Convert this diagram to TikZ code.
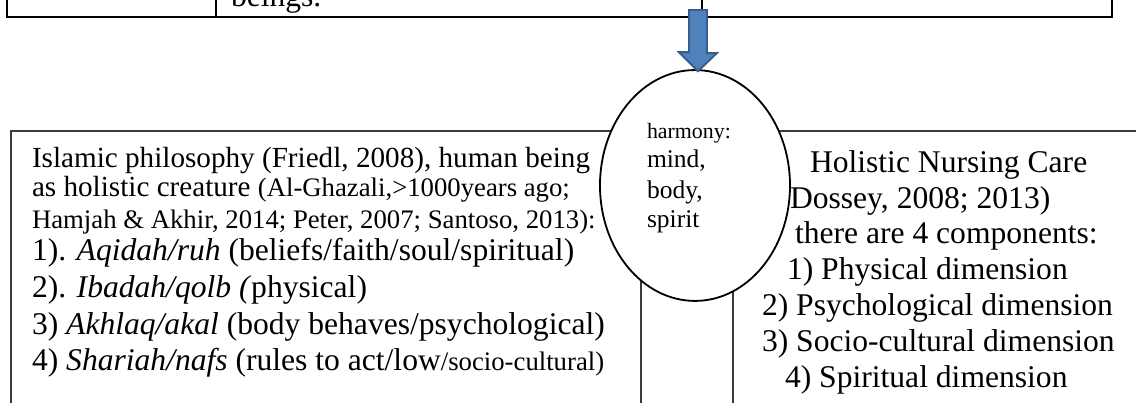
\documentclass[tikz,border=0pt]{standalone}
\usepackage{fontspec}
\setmainfont{Liberation Serif}
\usepackage{tikz}
\usetikzlibrary{positioning,calc,shapes.geometric}
\definecolor{ink}{HTML}{000000}
\definecolor{rejilla}{HTML}{3A3A3A}
\definecolor{azul}{HTML}{4F81BD}
\definecolor{azulosc}{HTML}{385D8A}
\newcommand{\fstrece}{\fontsize{13}{15}\selectfont}
\newcommand{\fsdoce}{\fontsize{12}{14}\selectfont}
\newcommand{\fsonce}{\fontsize{11}{13}\selectfont}
\newcommand{\fsmedio}{\fontsize{10.5}{12.5}\selectfont}
\newcommand{\fsnueve}{\fontsize{9}{11}\selectfont}
\tikzset{
  tabla/.style={draw=ink,line width=0.8pt},
  celda/.style={draw=rejilla,line width=0.45pt},
  linea/.style={anchor=base west,inner sep=0pt,outer sep=0pt,font=\fstrece},
  armonia/.style={ellipse,draw=ink,fill=white,line width=0.75pt,inner sep=0pt,
    minimum width=78.2pt,minimum height=95pt},
  flecha/.style={fill=azul,draw=azulosc,line width=0.8pt,line join=miter},
}

\begin{document}
\begin{tikzpicture}[x=0.4115pt,y=-0.4115pt]
  \useasboundingbox (0,0) rectangle (1136,403);
  \clip (0,0) rectangle (1136,403);
  % tabla de arriba (cortada)
  \draw[tabla] (7,-60) rectangle (216,17);
  \draw[tabla] (216,-60) rectangle (702,17);
  \draw[tabla] (702,-60) rectangle (1112,17);
  \node[linea] (seres) at (231,7) {beings.};
  % tabla de abajo
  \draw[celda] (11,131) rectangle (641,440);
  \draw[celda] (641,131) rectangle (733,440);
  \draw[celda] (733,131) rectangle (1170,440);
  % columna izquierda
  \foreach \n/\y/\t in {
    1/168/{\fsdoce Islamic philosophy (Friedl, 2008), human being},
    2/197/{\fsdoce as holistic creature {\fsonce (Al-Ghazali,>1000years ago;}},
    3/229/{\fsonce Hamjah \& Akhir, 2014; Peter, 2007; Santoso, 2013):},
    4/261/{1). \textit{Aqidah/ruh} (beliefs/faith/soul/spiritual)},
    5/298/{2). \textit{Ibadah/qolb (}physical)},
    6/335/{3) \textit{Akhlaq/akal} (body behaves/psychological)},
    7/371/{4) \textit{Shariah/nafs} (rules to act/low{\fsonce/socio-cultural)}}}
    \node[linea] (izq\n) at (32,\y) {\t};
  % columna derecha
  \foreach \n/\x/\y/\t in {
    1/810/173/{Holistic Nursing Care},
    2/790/209/{Dossey, 2008; 2013)},
    3/795/244/{there are 4 components:},
    4/787/280/{1) Physical dimension},
    5/762/316/{2) Psychological dimension},
    6/762/352/{3) Socio-cultural dimension},
    7/785/388/{4) Spiritual dimension}}
    \node[linea] (der\n) at (\x,\y) {\t};
  % elipse central
  \node[armonia] (harm) at (695,185.5) {};
  \node[linea,font=\fsnueve] (h1) at (647,139) {harmony:};
  \node[linea,font=\fsmedio] (h2) at (647,168) {mind,};
  \node[linea,font=\fsmedio] (h3) at (647,199) {body,};
  \node[linea,font=\fsmedio] (h4) at (647,228) {spirit};
  % flecha de bloque
  \coordinate (cola) at (698,10);
  \coordinate (punta) at ($(harm.north)+(3,2)$);
  \draw[flecha] (punta) -- ++(-19,-19) -- ++(10,0) -- (cola -| 689,0)
    -- (cola -| 707,0) -- ++(0,43) -- ++(10,0) -- cycle;
\end{tikzpicture}
\end{document}
